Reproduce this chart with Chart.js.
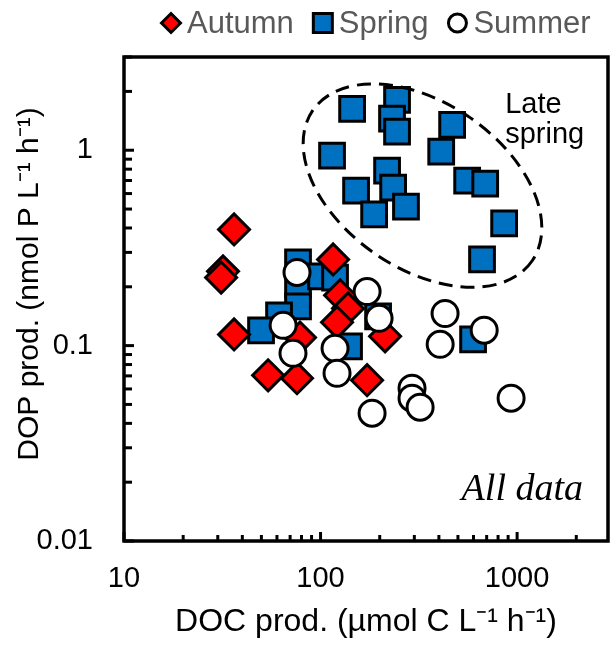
<!DOCTYPE html>
<html>
<head>
<meta charset="utf-8">
<script src="https://cdn.jsdelivr.net/npm/chart.js@4.4.0/dist/chart.umd.min.js"></script>
<style>
  html, body { margin: 0; padding: 0; background: #fff; overflow: hidden; }
  canvas { display: block; }
</style>
</head>
<body>
<canvas id="scatter" width="610" height="645"></canvas>
<script>
// DOC prod. (x) and DOP prod. (y), one pair per sample
var autumnDOC = [36.3, 31.9, 31.2, 36.3, 54.1, 75.9, 78.6, 115.8, 125.7, 138, 121.3, 213, 172.5];
var autumnDOP = [0.393, 0.240, 0.223, 0.114, 0.0705, 0.0681, 0.110, 0.276, 0.181, 0.155, 0.1316, 0.1116, 0.0665];

var springDOC = [144.7, 245, 231, 245, 467, 411, 557, 688, 859, 663, 218, 234, 272, 151.6, 187.3, 114.4,
                 76.8, 76.8, 76.8, 100.6, 118.5, 61.5, 49.8, 196.2, 139.6, 597];
var springDOP = [1.63, 1.81, 1.45, 1.245, 1.35, 0.984, 0.699, 0.675, 0.422, 0.276, 0.787, 0.644, 0.515, 0.622, 0.469, 0.938,
                 0.267, 0.206, 0.159, 0.226, 0.223, 0.143, 0.1197, 0.141, 0.0992, 0.1077];

var summerDOC = [75.9, 64.5, 72.4, 172.5, 198.5, 118.5, 121.3, 182.9, 292, 292, 321, 430, 406, 680, 932];
var summerDOP = [0.237, 0.127, 0.0913, 0.189, 0.138, 0.0969, 0.0722, 0.0451, 0.0605, 0.0538, 0.0484, 0.146, 0.1015, 0.120, 0.0538];

var seasons = ["Autumn", "Spring", "Summer"];
var xTickLabels = [10, 100, 1000];
var yTickLabels = [0.01, 0.1, 1];

function toPoints(xs, ys) {
  return xs.map(function (x, i) { return { x: x, y: ys[i] }; });
}

// 1..9 steps of every decade inside the scale range
function logSteps(min, max) {
  var out = [];
  for (var k = Math.floor(Math.log10(min)); k <= Math.ceil(Math.log10(max)); k++) {
    for (var m = 1; m <= 9; m++) {
      var v = m * Math.pow(10, k);
      if (v >= min * 0.999 && v <= max * 1.001) out.push({ value: v, major: m === 1 });
    }
  }
  return out;
}

function tickLabel(list) {
  return function (value) {
    var v = Number(Number(value).toPrecision(6));
    return list.indexOf(v) >= 0 ? String(v) : "";
  };
}

// plot frame with inward tick marks
var frameTicks = {
  id: "frameTicks",
  beforeDatasetsDraw: function (chart) {
    var ctx = chart.ctx, a = chart.chartArea;
    var xs = chart.scales.x, ys = chart.scales.y;
    ctx.save();
    ctx.strokeStyle = "#000";
    ctx.lineWidth = 3;
    logSteps(xs.min, xs.max).forEach(function (t) {
      var px = xs.getPixelForValue(t.value);
      ctx.beginPath();
      ctx.moveTo(px, a.bottom);
      ctx.lineTo(px, a.bottom - (t.major ? 9 : 6));
      ctx.stroke();
    });
    logSteps(ys.min, ys.max).forEach(function (t) {
      var py = ys.getPixelForValue(t.value);
      ctx.beginPath();
      ctx.moveTo(a.left, py);
      ctx.lineTo(a.left + (t.major ? 10 : 8), py);
      ctx.stroke();
    });
    ctx.lineWidth = 3.5;
    ctx.strokeRect(a.left, a.top, a.right - a.left, a.bottom - a.top);
    ctx.restore();
  }
};

// dashed "Late spring" ellipse and the two notes
var notes = {
  id: "notes",
  afterDatasetsDraw: function (chart) {
    var ctx = chart.ctx, a = chart.chartArea;
    var xs = chart.scales.x, ys = chart.scales.y;
    var cx = xs.getPixelForValue(330), cy = ys.getPixelForValue(0.659);
    ctx.save();
    ctx.strokeStyle = "#000";
    ctx.lineWidth = 3;
    ctx.setLineDash([14, 8]);
    ctx.beginPath();
    ctx.ellipse(cx, cy, 133, 83, 34.4 * Math.PI / 180, 0, 2 * Math.PI);
    ctx.stroke();
    ctx.setLineDash([]);

    ctx.fillStyle = "#000";
    ctx.textAlign = "left";
    ctx.textBaseline = "alphabetic";
    ctx.font = '29px Arial, "Liberation Sans", sans-serif';
    var lx = xs.getPixelForValue(870), ly = ys.getPixelForValue(1.556);
    ctx.fillText("Late", lx, ly);
    ctx.fillText("spring", lx, ly + 30);

    ctx.textAlign = "right";
    ctx.font = 'italic 38px "Times New Roman", "Liberation Serif", serif';
    ctx.fillText("All data", a.right - 25, a.bottom - 41);
    ctx.restore();
  }
};

// legend row above the plot
var legendRow = {
  id: "legendRow",
  afterDraw: function (chart) {
    var ctx = chart.ctx;
    var ds = chart.data.datasets;
    ctx.save();
    ctx.font = '31px Arial, "Liberation Sans", sans-serif';
    ctx.textBaseline = "middle";
    ctx.textAlign = "left";
    ctx.lineWidth = 3;
    ctx.strokeStyle = "#000";
    var x = 160, y = 23;
    ds.forEach(function (d) {
      var cx = x + 11;
      ctx.fillStyle = d.backgroundColor;
      ctx.beginPath();
      if (d.pointStyle === "rectRot") {
        ctx.moveTo(cx - 9.5, y); ctx.lineTo(cx, y - 9.5);
        ctx.lineTo(cx + 9.5, y); ctx.lineTo(cx, y + 9.5);
        ctx.closePath();
      } else if (d.pointStyle === "rect") {
        ctx.rect(cx - 9.5, y - 9.5, 19, 19);
      } else {
        ctx.arc(cx, y, 9, 0, 2 * Math.PI);
      }
      ctx.fill();
      ctx.stroke();
      ctx.fillStyle = "#595959";
      var tx = x + 27;
      ctx.fillText(d.label, tx, y + 1);
      x = tx + ctx.measureText(d.label).width + 18;
    });
    ctx.restore();
  }
};

var tickFont = { family: 'Arial, "Liberation Sans", sans-serif', size: 29 };

new Chart(document.getElementById("scatter"), {
  type: "scatter",
  data: {
    datasets: [
      { label: seasons[0], data: toPoints(autumnDOC, autumnDOP), pointStyle: "rectRot",
        backgroundColor: "#FF0000", borderColor: "#000", borderWidth: 3, pointRadius: 15.5, order: 1 },
      { label: seasons[1], data: toPoints(springDOC, springDOP), pointStyle: "rect",
        backgroundColor: "#0070C0", borderColor: "#000", borderWidth: 3, pointRadius: 17.5, order: 2 },
      { label: seasons[2], data: toPoints(summerDOC, summerDOP), pointStyle: "circle",
        backgroundColor: "#FFFFFF", borderColor: "#000", borderWidth: 3, pointRadius: 13, order: 0 }
    ]
  },
  options: {
    responsive: false,
    animation: false,
    devicePixelRatio: 1,
    layout: { autoPadding: false, padding: { top: 57, right: 2, left: 0, bottom: 0 } },
    plugins: {
      legend: { display: false },
      tooltip: { enabled: false }
    },
    scales: {
      x: {
        type: "logarithmic",
        min: 10,
        max: 2900,
        grid: { display: false, drawTicks: false },
        border: { display: false },
        ticks: { autoSkip: false, maxRotation: 0, padding: 21, color: "#000", font: tickFont,
                 callback: tickLabel(xTickLabels) },
        title: { display: true, text: "DOC prod. (\u00B5mol C L\u207B\u00B9 h\u207B\u00B9)", color: "#000",
                 font: { family: 'Arial, "Liberation Sans", sans-serif', size: 32 }, padding: { top: 0, bottom: 4 } },
        afterFit: function (scale) {
          scale.height = 104;
          scale.paddingLeft = 0;
          scale.paddingRight = 0;
        }
      },
      y: {
        type: "logarithmic",
        min: 0.01,
        max: 3,
        grid: { display: false, drawTicks: false },
        border: { display: false },
        ticks: { autoSkip: false, padding: 31, color: "#000", font: tickFont,
                 callback: tickLabel(yTickLabels) },
        title: { display: true, text: "\u2002\u2002DOP prod. (nmol P L\u207B\u00B9 h\u207B\u00B9)", color: "#000",
                 font: { family: 'Arial, "Liberation Sans", sans-serif', size: 30 }, padding: { top: 12, bottom: 0 } },
        afterFit: function (scale) {
          scale.width = 124;
          scale.paddingTop = 0;
          scale.paddingBottom = 0;
        }
      }
    }
  },
  plugins: [frameTicks, notes, legendRow]
});
</script>
</body>
</html>
